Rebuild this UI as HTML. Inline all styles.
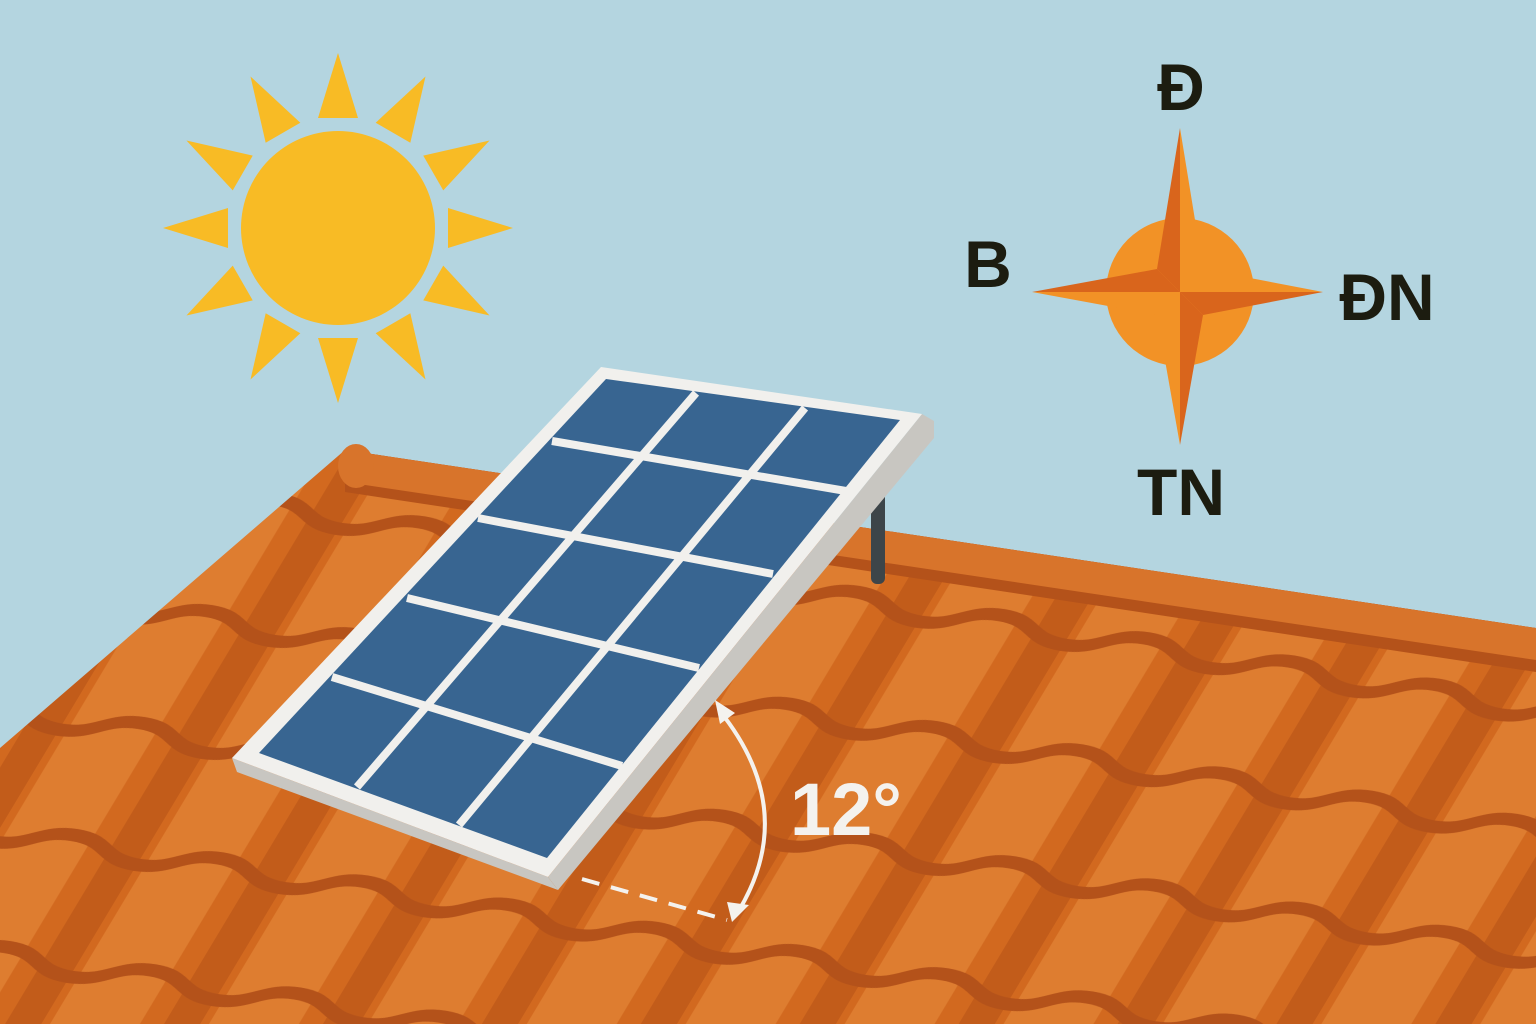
<!DOCTYPE html>
<html><head><meta charset="utf-8"><style>
html,body{margin:0;padding:0;background:#b4d5e0;}
svg{display:block;}
text{font-family:"Liberation Sans",sans-serif;font-weight:bold;}
</style></head><body>
<svg width="1536" height="1024" viewBox="0 0 1536 1024" xmlns="http://www.w3.org/2000/svg">
<defs>
<pattern id="tiles" width="145" height="112" patternUnits="userSpaceOnUse" patternTransform="matrix(1,0.16,-0.6,1,20,0)">
<rect width="145" height="112" fill="#d2691f"/>
<rect x="8" y="0" width="82" height="112" fill="#de7d30"/>
<rect x="112" y="0" width="33" height="112" fill="#c25c1a"/>
<path d="M0,100 C36,100 36,82 72,82 C108,82 108,100 145,100" fill="none" stroke="#b4521a" stroke-width="12"/>
</pattern>
<clipPath id="roofclip"><polygon points="345,450 1536,628 1536,1024 0,1024 0,748"/></clipPath>
</defs>
<rect width="1536" height="1024" fill="#b4d5e0"/>

<!-- sun -->
<g fill="#f8bb25">
<g id="ray"><polygon points="338,53 318,118 358,118"/></g>
<use href="#ray" transform="rotate(30 338 228)"/>
<use href="#ray" transform="rotate(60 338 228)"/>
<use href="#ray" transform="rotate(90 338 228)"/>
<use href="#ray" transform="rotate(120 338 228)"/>
<use href="#ray" transform="rotate(150 338 228)"/>
<use href="#ray" transform="rotate(180 338 228)"/>
<use href="#ray" transform="rotate(210 338 228)"/>
<use href="#ray" transform="rotate(240 338 228)"/>
<use href="#ray" transform="rotate(270 338 228)"/>
<use href="#ray" transform="rotate(300 338 228)"/>
<use href="#ray" transform="rotate(330 338 228)"/>
<circle cx="338" cy="228" r="97"/>
</g>

<!-- compass -->
<circle cx="1180" cy="292" r="74" fill="#f29226"/>
<polygon points="1180,128 1157,269 1180,292" fill="#d9651c"/>
<polygon points="1180,128 1203,269 1180,292" fill="#f29226"/>
<polygon points="1032,292 1157,269 1180,292" fill="#d9651c"/>
<polygon points="1032,292 1157,315 1180,292" fill="#f29226"/>
<polygon points="1180,445 1203,315 1180,292" fill="#d9651c"/>
<polygon points="1180,445 1157,315 1180,292" fill="#f29226"/>
<polygon points="1323,292 1203,315 1180,292" fill="#d9651c"/>
<polygon points="1323,292 1203,269 1180,292" fill="#f29226"/>
<g fill="#1c1c10" font-size="66" text-anchor="middle">
<text x="1181" y="110">Đ</text>
<text x="988" y="287">B</text>
<text x="1387" y="320">ĐN</text>
<text x="1181" y="515">TN</text>
</g>

<!-- roof -->
<g clip-path="url(#roofclip)">
<rect x="0" y="400" width="1536" height="624" fill="url(#tiles)"/>
<polygon points="345,445 1536,628 1536,672 345,492" fill="#b4521a"/>
<polygon points="345,445 1536,622 1536,660 345,482" fill="#d8742b"/>
</g>
<ellipse cx="356" cy="466" rx="18" ry="22" fill="#d8742b"/>

<!-- pole -->
<rect x="871" y="488" width="14" height="96" rx="6" fill="#3d4549"/>

<!-- panel -->
<polygon points="922,414 934,421 934,438 558,890 548,877" fill="#c8c6c1"/>
<polygon points="232,758 548,877 558,890 237,772" fill="#c8c6c1"/>
<polygon points="601,367 922,414 548,877 232,758" fill="#f1f0ed"/>
<polygon points="606,379 900,420 547,858 259,753" fill="#386591"/>
<g stroke="#f1f0ed" stroke-width="8">
<line x1="552" y1="441" x2="846" y2="491"/>
<line x1="478" y1="518" x2="773" y2="574"/>
<line x1="407" y1="598" x2="699" y2="668"/>
<line x1="332" y1="677" x2="622" y2="766"/>
<line x1="696" y1="393" x2="357" y2="787"/>
<line x1="805" y1="408" x2="459" y2="825"/>
</g>

<!-- angle -->
<path d="M719,710 Q800,810 738,912" fill="none" stroke="#f4f2ee" stroke-width="4"/>
<polygon points="715,700 735,713 720,724" fill="#f4f2ee"/>
<polygon points="732,922 727,902 749,905" fill="#f4f2ee"/>
<line x1="582" y1="879" x2="727" y2="920" stroke="#f4f2ee" stroke-width="4" stroke-dasharray="18,12"/>
<text x="790" y="835" font-size="74" fill="#f4f2ee">12°</text>
</svg>
</body></html>
